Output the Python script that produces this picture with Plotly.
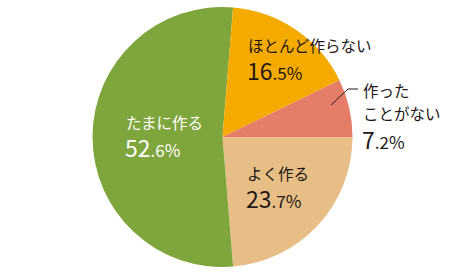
import plotly.graph_objects as go

categories = ["よく作る", "たまに作る", "ほとんど作らない", "作ったことがない"]
values = [23.7, 52.6, 16.5, 7.2]
colors = ["#E8BE87", "#7FA63C", "#F5AA00", "#E67D68"]

W, H = 455, 277
cx, cy, R = 222.5, 137, 130

fig = go.Figure(go.Pie(
    labels=categories, values=values, sort=False, direction="clockwise",
    rotation=90, marker=dict(colors=colors, line=dict(width=0)),
    textinfo="none", hoverinfo="skip", showlegend=False,
    domain=dict(x=[(cx - R) / W, (cx + R) / W], y=[(H - cy - R) / H, (H - cy + R) / H]),
))

FONT = "Noto Sans CJK JP"
DARK = "#231815"

def text_at(x, y, txt, color, size=15.5):
    fig.add_annotation(x=x / W, y=1 - y / H, xref="paper", yref="paper",
                       xanchor="left", yanchor="middle", align="left", showarrow=False,
                       borderpad=0, text=txt, font=dict(family=FONT, size=size, color=color))

def label(x, ys, lines, pct, color):
    for yy, ln in zip(ys[:-1], lines):
        text_at(x, yy, ln, color)
    whole, frac = f"{pct:.1f}".split(".")
    txt = f"<span style='font-size:23px'>{whole}</span><span style='font-size:17px'>.{frac}%</span>"
    text_at(x - 1, ys[-1], txt, color)

vals = dict(zip(categories, values))
label(247, [45, 70], ["ほとんど作らない"], vals["ほとんど作らない"], DARK)
label(362, [90, 113, 138.5], ["作った", "ことがない"], vals["作ったことがない"], DARK)
label(125, [122, 147], ["たまに作る"], vals["たまに作る"], "white")
label(246, [173, 198], ["よく作る"], vals["よく作る"], DARK)

fig.add_shape(type="path", xref="paper", yref="paper",
              path=f"M {331/W} {1-105/H} L {348/W} {1-89/H} L {358/W} {1-89/H}",
              line=dict(color=DARK, width=1))

fig.update_layout(width=W, height=H, margin=dict(l=0, r=0, t=0, b=0),
                  paper_bgcolor="white", plot_bgcolor="white")
fig.write_html("out.html")
